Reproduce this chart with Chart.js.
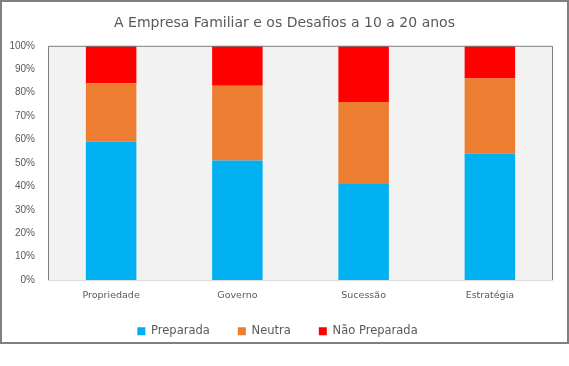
<!DOCTYPE html>
<html><head><meta charset="utf-8">
<script src="https://cdn.jsdelivr.net/npm/chart.js@4/dist/chart.umd.min.js"></script>
<style>html,body{margin:0;padding:0;background:#fff}#wrap{width:569px;height:366px;position:relative}</style>
</head><body><div id="wrap"><canvas id="c" width="569" height="366"></canvas></div>
<script>
const categories = ['Propriedade', 'Governo', 'Sucessão', 'Estratégia'];
const preparada = [59, 51, 41, 54];
const neutra = [25, 32, 35, 32];
const naoPreparada = [16, 17, 24, 14];
const yTicks = [0, 10, 20, 30, 40, 50, 60, 70, 80, 90, 100];
const seriesNames = ['Preparada', 'Neutra', 'Não Preparada'];
const colors = ['#00B0F0', '#ED7D31', '#FF0000'];
const FONT = "'DejaVu Sans', sans-serif";

const bgPlugin = {
  id: 'bg',
  afterLayout(chart) {
    const l = chart.legend;
    if (l) { l.top -= 14; l.bottom -= 14; l.left += 1; l.right += 1; }
    const t = chart.titleBlock;
    if (t) { t.left += 8; t.right += 8; }
  },
  beforeDraw(chart) {
    const ctx = chart.ctx, a = chart.chartArea;
    ctx.save();
    ctx.fillStyle = '#fff';
    ctx.fillRect(0, 0, chart.width, chart.height);
    ctx.strokeStyle = '#808080';
    ctx.lineWidth = 2;
    ctx.strokeRect(1, 1, 567, 342);
    ctx.fillStyle = '#F2F2F2';
    ctx.fillRect(a.left, a.top, a.right - a.left, a.bottom - a.top);
    ctx.restore();
  },
  afterDatasetsDraw(chart) {
    const ctx = chart.ctx, a = chart.chartArea;
    ctx.save();
    ctx.lineWidth = 1;
    ctx.strokeStyle = '#808080';
    ctx.beginPath();
    ctx.moveTo(a.left + 0.5, a.bottom);
    ctx.lineTo(a.left + 0.5, a.top + 0.5);
    ctx.lineTo(a.right - 0.5, a.top + 0.5);
    ctx.lineTo(a.right - 0.5, a.bottom);
    ctx.stroke();
    ctx.strokeStyle = '#D9D9D9';
    ctx.beginPath();
    ctx.moveTo(a.left, a.bottom + 0.5);
    ctx.lineTo(a.right, a.bottom + 0.5);
    ctx.stroke();
    ctx.restore();
  }
};

new Chart(document.getElementById('c'), {
  type: 'bar',
  data: {
    labels: categories,
    datasets: [preparada, neutra, naoPreparada].map((d, i) => ({
      label: seriesNames[i], data: d, backgroundColor: colors[i],
      borderWidth: 0, categoryPercentage: 1, barPercentage: 0.4
    }))
  },
  options: {
    responsive: false, animation: false, devicePixelRatio: 1,
    layout: { padding: { left: 0, right: 16, top: 11, bottom: 5 } },
    plugins: {
      title: { display: true, text: 'A Empresa Familiar e os Desafios a 10 a 20 anos',
        color: '#595959', font: { family: FONT, size: 14, weight: 'normal' }, padding: { top: 4, bottom: 14 } },
      legend: { position: 'bottom', labels: { color: '#595959', font: { family: FONT, size: 11.5 },
        boxWidth: 8, boxHeight: 8, padding: 28 } },
      tooltip: { enabled: false }
    },
    scales: {
      x: { stacked: true, grid: { display: false, drawTicks: false }, border: { display: false },
        ticks: { color: '#595959', font: { family: FONT, size: 9.5 }, padding: 10 } },
      y: { stacked: true, min: 0, max: 100, grid: { display: false, drawTicks: false }, border: { display: false },
        afterFit(s) { s.width = 48; },
        afterBuildTicks(s) { s.ticks = yTicks.map(v => ({ value: v })); },
        ticks: { color: '#595959', font: { family: "'Liberation Sans', sans-serif", size: 10 }, padding: 13, callback: v => v + '%' } }
    }
  },
  plugins: [bgPlugin]
});
</script></body></html>
